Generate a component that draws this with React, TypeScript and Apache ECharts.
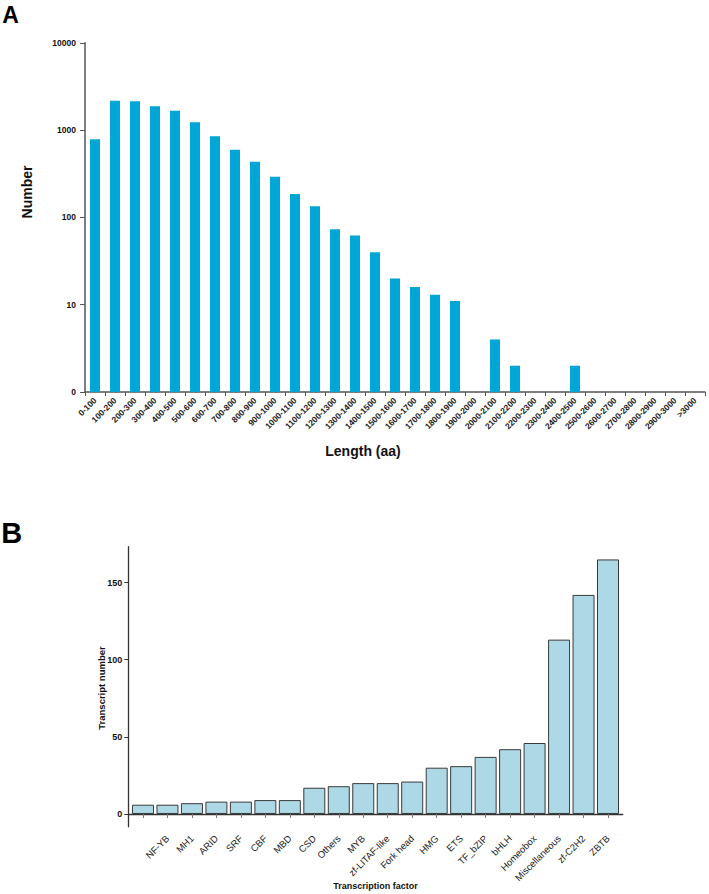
import React, { useEffect, useRef } from "react";
import * as echarts from "echarts";

// Panel A: protein length distribution (log scale)
const lengthCategories = [
  "0-100", "100-200", "200-300", "300-400", "400-500", "500-600", "600-700", "700-800",
  "800-900", "900-1000", "1000-1100", "1100-1200", "1200-1300", "1300-1400", "1400-1500",
  "1500-1600", "1600-1700", "1700-1800", "1800-1900", "1900-2000", "2000-2100", "2100-2200",
  "2200-2300", "2300-2400", "2400-2500", "2500-2600", "2600-2700", "2700-2800", "2800-2900",
  "2900-3000", ">3000",
];
const lengthCounts: (number | null)[] = [
  785, 2170, 2140, 1875, 1670, 1228, 849, 597, 435, 292, 185, 134, 73, 62, 40,
  20, 16, 13, 11, null, 4, 2, null, null, 2, null, null, null, null, null, null,
];
const logTickLabels: Record<number, string> = { 1: "0", 10: "10", 100: "100", 1000: "1000", 10000: "10000" };

// Panel B: transcription factor families
const tfNames = [
  "", "NF-YB", "MH1", "ARID", "SRF", "CBF", "MBD", "CSD", "Others", "MYB", "zf-LITAF-like",
  "Fork head", "HMG", "ETS", "TF_bZIP", "bHLH", "Homeobox", "Miscellaneous", "zf-C2H2", "ZBTB",
];
const tfCounts = [6, 6, 7, 8, 8, 9, 9, 17, 18, 20, 20, 21, 30, 31, 37, 42, 46, 113, 142, 165];
const tfTicks = [0, 50, 100, 150];

const FONT = '"Liberation Sans", Arial, sans-serif';

export default function App() {
  const ref = useRef<HTMLDivElement>(null);
  useEffect(() => {
    if (!ref.current) return;
    const chart = echarts.init(ref.current, null, { renderer: "svg" });
    const positions = tfNames.map((_, i) => i + 1);
    chart.setOption({
      animation: false,
      textStyle: { fontFamily: FONT },
      grid: [
        { left: 85, top: 42.8, width: 620, height: 349.2, containLabel: false },
        { left: 128.3, top: 546.7, width: 494.4, height: 280, containLabel: false },
      ],
      xAxis: [
        {
          gridIndex: 0,
          type: "category",
          data: lengthCategories,
          boundaryGap: true,
          axisLine: { lineStyle: { color: "#555", width: 1.5 } },
          axisTick: { show: true, length: 4, lineStyle: { color: "#555" }, interval: 0 },
          axisLabel: {
            interval: 0,
            rotate: 45,
            margin: 7,
            fontSize: 8.5,
            fontWeight: "bold",
            color: "#222",
            fontFamily: FONT,
          },
          splitLine: { show: false },
        },
        {
          gridIndex: 1,
          type: "value",
          min: 0.4,
          max: 20.6,
          axisLine: { lineStyle: { color: "#333", width: 1.3 } },
          axisTick: { show: true, length: 4, customValues: positions, lineStyle: { color: "#777" } },
          axisLabel: {
            customValues: positions,
            rotate: 45,
            margin: 10,
            fontSize: 9.5,
            color: "#222",
            fontFamily: FONT,
            formatter: (v: number) => tfNames[Math.round(v) - 1] ?? "",
          },
          splitLine: { show: false },
        },
      ],
      yAxis: [
        {
          gridIndex: 0,
          type: "log",
          logBase: 10,
          min: 1,
          max: 10000,
          axisLine: { show: true, lineStyle: { color: "#555", width: 1.5 } },
          axisTick: { show: true, length: 5, lineStyle: { color: "#555" } },
          minorTick: { show: false },
          axisLabel: {
            margin: 9,
            fontSize: 8.5,
            fontWeight: "bold",
            color: "#111",
            fontFamily: FONT,
            formatter: (v: number) => logTickLabels[Math.round(v)] ?? "",
          },
          splitLine: { show: false },
        },
        {
          gridIndex: 1,
          type: "value",
          min: -8.25,
          max: 173.25,
          axisLine: { show: true, lineStyle: { color: "#333", width: 1.3 } },
          axisTick: { show: true, length: 4, customValues: tfTicks, lineStyle: { color: "#333" } },
          axisLabel: {
            customValues: tfTicks,
            margin: 6,
            fontSize: 9,
            fontWeight: "bold",
            color: "#111",
            fontFamily: FONT,
          },
          splitLine: { show: false },
        },
      ],
      series: [
        {
          type: "bar",
          xAxisIndex: 0,
          yAxisIndex: 0,
          data: lengthCounts,
          barWidth: "50%",
          itemStyle: { color: "#00A6D6" },
        },
        {
          type: "bar",
          xAxisIndex: 1,
          yAxisIndex: 1,
          data: tfCounts.map((v, i) => [positions[i], v]),
          barWidth: 22,
          itemStyle: { color: "#ADD8E6", borderColor: "#3a3a3a", borderWidth: 1 },
        },
      ],
      graphic: [
        {
          type: "text",
          x: 10.5,
          y: 15,
          style: { text: "A", font: `bold 23px ${FONT}`, fill: "#000", align: "center", verticalAlign: "middle" },
        },
        {
          type: "text",
          x: 11.7,
          y: 533,
          style: { text: "B", font: `bold 29px ${FONT}`, fill: "#000", align: "center", verticalAlign: "middle" },
        },
        {
          type: "text",
          x: 27,
          y: 192,
          rotation: Math.PI / 2,
          style: { text: "Number", font: `bold 14px ${FONT}`, fill: "#111", align: "center", verticalAlign: "middle" },
        },
        {
          type: "text",
          x: 363,
          y: 451,
          style: { text: "Length (aa)", font: `bold 14px ${FONT}`, fill: "#111", align: "center", verticalAlign: "middle" },
        },
        {
          type: "text",
          x: 101.7,
          y: 688,
          rotation: Math.PI / 2,
          style: { text: "Transcript number", font: `bold 9.5px ${FONT}`, fill: "#111", align: "center", verticalAlign: "middle" },
        },
        {
          type: "text",
          x: 375.5,
          y: 886,
          style: { text: "Transcription factor", font: `bold 9px ${FONT}`, fill: "#111", align: "center", verticalAlign: "middle" },
        },
      ],
    });
    return () => chart.dispose();
  }, []);
  return (
    <div
      ref={ref}
      style={{ position: "fixed", left: 0, top: 0, width: 709, height: 894, background: "#fff" }}
    />
  );
}
